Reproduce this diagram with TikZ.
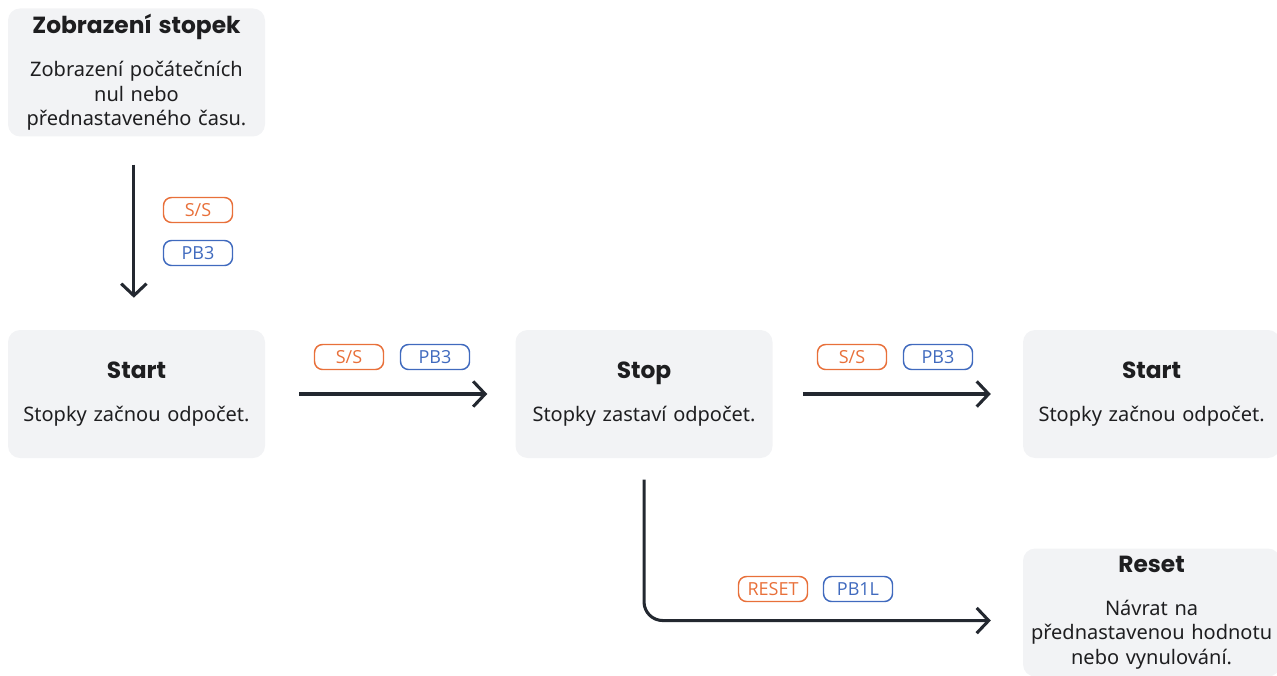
\documentclass[tikz,border=0pt]{standalone}
\usepackage{fontspec}
\setmainfont{Noto Sans}
\newfontfamily\ttlfont{Poppins}
\newfontfamily\tagfont{Open Sans}
\usepackage{tikz}
\usetikzlibrary{arrows.meta,positioning,calc}
\definecolor{boxgray}{RGB}{242,243,245}
\definecolor{tagorange}{RGB}{232,112,58}
\definecolor{tagblue}{RGB}{64,106,190}
\definecolor{arrowdark}{RGB}{35,40,48}
\definecolor{textdark}{RGB}{30,30,32}

\begin{document}
\begin{tikzpicture}[x=0.75pt, y=-0.75pt, node distance=187.5pt, auto]
\tikzstyle{b} = [rectangle, fill=boxgray, rounded corners=9pt, text width=186pt, align=center, minimum width=192.75pt, minimum height=96pt, inner sep=0pt, text=textdark, font=\fontsize{15}{18.4}\selectfont]
\tikzstyle{t} = [rectangle, draw, rounded corners=6pt, minimum width=51.75pt, minimum height=18.75pt, inner sep=0pt, line width=1.1pt, font=\tagfont\fontsize{13.5}{14}\selectfont]
\tikzstyle{so} = [t, draw=tagorange, text=tagorange]
\tikzstyle{pb} = [t, draw=tagblue, text=tagblue]
\tikzstyle{a} = [-{Straight Barb[length=9pt,width=19pt,line width=2.3pt]}, line width=2.3pt, draw=arrowdark]
\newcommand{\ttl}[1]{{\ttlfont\bfseries\fontsize{17.5}{19}\selectfont #1}\\[13.5pt]}
\useasboundingbox (0,0) rectangle (1277,675);
% boxes
\node [b] (start) at (136.5,394) {\ttl{Start}Stopky začnou odpočet.};
\node [b, right=of start] (stop) {\ttl{Stop}Stopky zastaví odpočet.};
\node [b, right=of stop] (start2) {\ttl{Start}Stopky začnou odpočet.};
\node [b, above=144.75pt of start] (show) {\ttl{Zobrazení stopek}Zobrazení počátečních\\nul nebo\\přednastaveného času.};
\node [b, below=67.5pt of start2] (reset) {\ttl{Reset}Návrat na\\přednastavenou hodnotu\\nebo vynulování.};
% tags
\node [so] (ss1) at (198,210) {S/S};
\node [pb] (pb1) at (198,253) {PB3};
\node [so] (ss2) at (349,357) {S/S};
\node [pb] (pb2) at (435,357) {PB3};
\node [so] (ss3) at (852,357) {S/S};
\node [pb] (pb3) at (938,357) {PB3};
\node [so] (rst) at (773,589) {RESET};
\node [pb] (pb4) at (858,589) {PB1L};
% arrows
\draw [a, shorten <=21pt, shorten >=24pt] ([xshift=-2pt]show.south) -- ([xshift=-2pt]show.south |- start.north);
\draw [a, shorten <=25.5pt, shorten >=21pt] (start.east) -- (stop.west);
\draw [a, shorten <=22.5pt, shorten >=24pt] (stop.east) -- (start2.west);
\draw [a, rounded corners=14pt, shorten <=16pt, shorten >=24pt] (stop.south) |- ([yshift=-6pt]reset.west);
\end{tikzpicture}
\end{document}
